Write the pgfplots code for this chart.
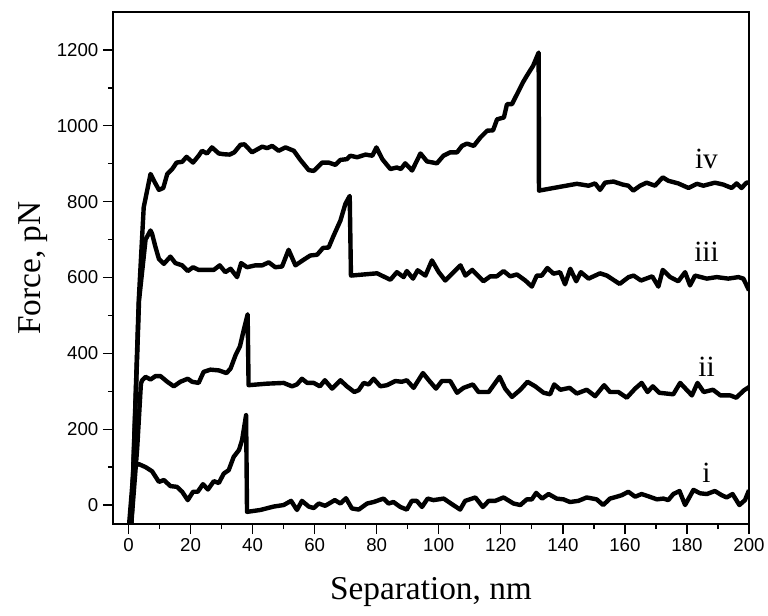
\documentclass[border=0pt]{standalone}
\usepackage{fontspec}
\setmainfont{Liberation Serif}
\newfontfamily\arial{Liberation Sans}
\usepackage{pgfplots}
\pgfplotsset{compat=1.18}

\begin{document}
\begin{tikzpicture}
\begin{axis}[
    name=ax,
    width=477pt, height=384pt,
    scale only axis=true,
    xmin=-5, xmax=200,
    ymin=-50, ymax=1300,
    xtick={0,20,...,200},
    ytick={0,200,...,1200},
    minor x tick num=1,
    minor y tick num=1,
    xtick pos=left, ytick pos=left,
    tick align=outside,
    major tick length=7.5pt,
    minor tick length=3.75pt,
    axis line style={line width=1pt},
    every tick/.style={black, line width=1pt},
    tick label style={font=\arial\fontsize{14}{16}\selectfont},
    /pgf/number format/assume math mode=true,
    /pgf/number format/1000 sep={},
    xlabel={Separation, nm},
    ylabel={Force, pN},
    label style={font=\fontsize{25}{30}\selectfont},
    xlabel style={yshift=-12pt},
    curve/.style={black, line width=3.3pt, line join=round, mark=none},
]
% i
\addplot[curve] coordinates {(0.1,-60) (1.7,101) (3.3,108) (5.5,100) (7.6,89) (9.8,61) (11.4,66) (13.5,50) (15.6,48) (17.3,35) (19.1,13) (20.8,35) (22.3,35) (24.0,55) (25.6,41) (27.5,63) (29.1,58) (30.7,83) (32.3,92) (33.9,127) (35.6,145) (36.6,171) (37.9,237) (38.2,-18) (42.5,-13) (46.8,-4) (50.0,0) (52.4,11) (54.3,-13) (55.9,11) (58.1,-4) (59.7,-8) (61.3,4) (63.4,-2) (66.5,13) (68.3,4) (70.1,18) (72.0,-9) (74.2,-12) (76.9,4) (79.0,8) (82.2,17) (83.8,4) (85.4,8) (87.6,-5) (89.7,-12) (91.3,11) (92.9,11) (94.6,-5) (96.4,17) (98.3,13) (101.6,17) (104.3,2) (106.9,-12) (108.5,11) (111.8,20) (114.2,-5) (116.1,11) (118.2,11) (120.9,20) (124.1,4) (126.3,0) (128.4,15) (130.0,15) (131.4,32) (133.3,17) (135.4,29) (138.0,17) (140.2,15) (142.3,8) (145.0,11) (147.7,20) (150.9,15) (153.0,0) (155.2,17) (157.4,22) (159.0,26) (161.1,35) (163.3,22) (165.4,29) (167.6,23) (170.3,15) (172.4,17) (174.0,13) (175.6,29) (177.6,37) (179.4,0) (182.1,40) (184.2,31) (186.4,29) (189.0,37) (191.2,26) (192.8,20) (194.7,29) (196.9,0) (198.7,13) (200,39)};
% ii
\addplot[curve] coordinates {(0.8,-60) (2.8,150) (4.0,320) (4.4,329) (5.5,338) (7.1,331) (8.7,340) (10.3,340) (12.5,325) (14.6,313) (16.7,325) (19.1,333) (20.5,325) (22.6,322) (24.2,351) (26.4,357) (29.1,355) (31.6,348) (32.9,360) (34.5,395) (35.9,418) (37.1,460) (38.4,503) (38.7,316) (44.6,320) (50.0,322) (52.7,313) (54.3,318) (55.9,333) (57.6,322) (59.7,322) (61.7,313) (63.3,329) (65.6,307) (68.3,329) (70.4,313) (72.8,298) (74.2,303) (75.8,322) (77.4,318) (79.0,333) (81.2,313) (83.3,316) (86.0,327) (88.1,325) (89.7,329) (91.9,309) (94.9,348) (97.0,327) (99.1,307) (101.0,327) (103.7,327) (105.9,296) (108.0,309) (111.0,318) (112.8,298) (116.1,298) (119.6,338) (121.4,307) (123.6,285) (126.3,304) (128.6,325) (131.1,313) (133.8,296) (135.9,292) (137.2,318) (139.2,304) (142.2,309) (144.5,294) (147.7,304) (150.4,287) (153.3,316) (155.2,298) (157.9,298) (160.6,283) (163.3,307) (165.4,322) (167.3,298) (169.0,313) (171.1,296) (175.6,292) (177.8,322) (181.6,289) (183.4,322) (185.4,298) (188.4,304) (190.8,289) (194.0,289) (195.9,283) (198.3,302) (200,311)};
% iii
\addplot[curve] coordinates {(0.9,-60) (3.4,540) (5.5,700) (7.1,724) (7.6,715) (8.7,680) (9.8,649) (11.4,636) (13.5,655) (15.1,638) (17.3,632) (19.1,617) (20.8,627) (22.6,620) (25.3,620) (27.5,620) (29.4,632) (31.2,614) (32.9,623) (35.0,601) (36.3,638) (38.2,627) (40.9,632) (43.1,632) (45.2,640) (47.3,627) (49.5,629) (51.6,673) (53.8,632) (56.5,647) (58.6,658) (60.8,660) (62.7,678) (64.5,679) (66.1,710) (68.3,750) (69.9,794) (71.3,815) (71.7,605) (80.1,611) (84.4,594) (86.5,614) (88.7,601) (89.7,617) (91.7,597) (93.2,619) (95.7,605) (97.8,645) (100.0,614) (102.1,592) (104.8,614) (107.0,632) (108.6,605) (110.8,620) (114.4,590) (116.6,603) (118.7,603) (120.9,617) (123.0,603) (125.2,608) (127.9,592) (130.0,576) (131.6,605) (133.2,605) (135.0,625) (137.0,610) (139.1,614) (140.7,582) (142.4,623) (144.3,590) (145.8,614) (148.3,597) (152.0,611) (154.2,605) (158.3,583) (161.2,601) (162.8,605) (165.2,592) (168.8,603) (170.8,576) (172.2,620) (174.6,601) (177.2,590) (179.4,614) (181.0,579) (182.6,605) (186.4,597) (189.6,601) (193.3,597) (196.6,601) (198.2,597) (200,566)};
% iv
\addplot[curve] coordinates {(0.9,-60) (3.3,540) (4.9,785) (7.1,873) (8.2,855) (9.8,831) (11.2,836) (12.5,873) (14.1,886) (15.5,903) (17.3,905) (18.7,918) (20.8,903) (22.6,921) (23.7,934) (25.3,927) (26.9,943) (29.1,927) (30.7,925) (32.6,924) (34.1,930) (36.1,950) (37.4,951) (39.8,930) (43.1,945) (44.7,941) (46.3,947) (48.4,934) (50.6,943) (53.3,934) (55.4,910) (58.1,883) (59.7,881) (62.4,903) (64.5,903) (66.7,897) (68.3,910) (70.4,912) (71.5,921) (73.7,917) (76.4,924) (78.6,921) (79.9,943) (81.8,912) (84.4,886) (86.5,890) (87.8,886) (89.2,901) (91.4,882) (94.1,927) (96.2,906) (99.4,901) (101.5,921) (103.7,930) (105.9,930) (107.5,947) (109.1,953) (111.3,947) (113.4,969) (115.6,987) (117.5,988) (118.8,1017) (121.0,1022) (122.0,1057) (123.6,1057) (125.2,1083) (127.1,1114) (128.4,1132) (130.4,1158) (132.2,1193) (132.3,829) (137.0,836) (144.5,847) (148.3,842) (150.4,848) (152.0,831) (153.6,850) (156.3,853) (159.3,845) (161.1,842) (162.7,829) (164.9,842) (167.0,850) (169.7,842) (172.2,864) (174.0,855) (177.2,848) (180.5,836) (183.2,847) (185.3,842) (189.0,850) (191.7,845) (194.4,836) (196.0,848) (197.6,836) (199.2,850) (200,850)};

\node[font=\fontsize{22}{26}\selectfont] at (axis cs:186.3,913) {iv};
\node[font=\fontsize{22}{26}\selectfont] at (axis cs:186.3,668) {iii};
\node[font=\fontsize{22}{26}\selectfont] at (axis cs:186.3,365) {ii};
\node[font=\fontsize{22}{26}\selectfont] at (axis cs:186.3,85) {i};
\end{axis}
\pgfresetboundingbox
\useasboundingbox ([shift={(-84.75pt,-68.25pt)}]ax.south west) rectangle ([shift={(14.25pt,9pt)}]ax.north east);
\end{tikzpicture}
\end{document}
